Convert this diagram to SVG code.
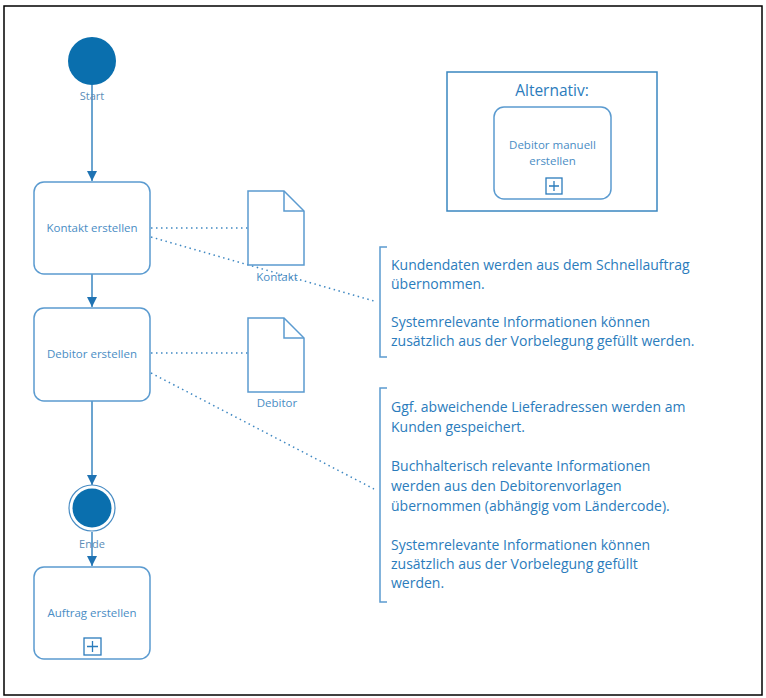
<svg xmlns="http://www.w3.org/2000/svg" width="766" height="698" viewBox="0 0 766 698">
<style>
.box{fill:#fff;stroke:#5b9bd0;stroke-width:1.5}
.lbl{font-family:"Open Sans","Liberation Sans",sans-serif;font-size:11.5px;fill:#4a8dc4;text-anchor:middle}
.ev{font-family:"Open Sans","Liberation Sans",sans-serif;font-size:11px;fill:#5b8db8;text-anchor:middle}
.note{font-family:"Open Sans","Liberation Sans",sans-serif;font-size:14px;fill:#2b7cbc}
.flow{stroke:#3a86c0;stroke-width:1.5;fill:none}
.dot{stroke:#3f88c2;stroke-width:1.5;fill:none;stroke-dasharray:1.5 3.5}
.brk{stroke:#5b9bd0;stroke-width:1.5;fill:none}
</style>
<defs>
<marker id="arr" viewBox="0 0 10 10" refX="10" refY="5" markerWidth="10" markerHeight="10" markerUnits="userSpaceOnUse" orient="auto">
<path d="M0,0 L10,5 L0,10 Z" fill="#1f73b3"/>
</marker>
</defs>
<rect x="4" y="6" width="758" height="689" fill="#fff" stroke="#000" stroke-width="1.5"/>

<g id="connectors">
<line class="flow" x1="92" y1="85" x2="92" y2="181" marker-end="url(#arr)"/>
<line class="flow" x1="92" y1="274" x2="92" y2="307" marker-end="url(#arr)"/>
<line class="flow" x1="92" y1="401" x2="92" y2="485" marker-end="url(#arr)"/>
<line class="flow" x1="92" y1="532" x2="92" y2="566" marker-end="url(#arr)"/>
<line class="dot" x1="151" y1="228" x2="248" y2="228"/>
<line class="dot" x1="151" y1="237" x2="374" y2="301"/>
<line class="dot" x1="151" y1="353" x2="248" y2="353"/>
<line class="dot" x1="151" y1="373" x2="374" y2="489"/>
</g>

<g id="start">
<circle cx="92" cy="61" r="24" fill="#0a6fae"/>
<text class="ev" x="92" y="100">Start</text>
</g>

<g id="kontakt-erstellen">
<rect class="box" x="34" y="182" width="116" height="92" rx="10"/>
<text class="lbl" x="92" y="232">Kontakt erstellen</text>
</g>

<g id="debitor-erstellen">
<rect class="box" x="34" y="308" width="116" height="93" rx="10"/>
<text class="lbl" x="92" y="358">Debitor erstellen</text>
</g>

<g id="ende">
<circle cx="92" cy="508" r="23" fill="#fff" stroke="#4a8dc4" stroke-width="1.2"/>
<circle cx="92" cy="508" r="19.5" fill="#0a6fae"/>
<text class="ev" x="92" y="548">Ende</text>
</g>

<g id="auftrag-erstellen">
<rect class="box" x="34" y="567" width="116" height="92" rx="10"/>
<text class="lbl" x="92" y="617">Auftrag erstellen</text>
<rect x="84" y="638" width="17" height="17" fill="#fff" stroke="#2b7cbc" stroke-width="1.3"/>
<path d="M87,646.5 H98 M92.5,641 V652" stroke="#2b7cbc" stroke-width="1.3"/>
</g>

<g id="doc-kontakt">
<path d="M248,191 H284 L304,211 V265 H248 Z" fill="#fff" stroke="#5b9bd0" stroke-width="1.5"/>
<path d="M284,191 V211 H304" fill="none" stroke="#5b9bd0" stroke-width="1.5"/>
<text class="lbl" x="277" y="281">Kontakt</text>
</g>

<g id="doc-debitor">
<path d="M248,318 H284 L304,338 V392 H248 Z" fill="#fff" stroke="#5b9bd0" stroke-width="1.5"/>
<path d="M284,318 V338 H304" fill="none" stroke="#5b9bd0" stroke-width="1.5"/>
<text class="lbl" x="277" y="407">Debitor</text>
</g>

<g id="alternativ">
<rect x="447" y="72" width="210" height="139" fill="#fff" stroke="#3a86c0" stroke-width="1.5"/>
<text x="552" y="96" font-family="'Open Sans','Liberation Sans',sans-serif" font-size="15.5" fill="#2b7cbc" text-anchor="middle">Alternativ:</text>
<rect class="box" x="494" y="107" width="117" height="92" rx="10"/>
<text class="lbl" x="552.5" y="149">Debitor manuell</text>
<text class="lbl" x="552.5" y="165">erstellen</text>
<rect x="546" y="178" width="16" height="16" fill="#fff" stroke="#2b7cbc" stroke-width="1.3"/>
<path d="M549,186 H559 M554,181 V191" stroke="#2b7cbc" stroke-width="1.3"/>
</g>

<g id="note-kontakt">
<path class="brk" d="M387,247 H380 V357 H387"/>
<text class="note" x="391" y="270">Kundendaten werden aus dem Schnellauftrag</text>
<text class="note" x="391" y="289">übernommen.</text>
<text class="note" x="391" y="327">Systemrelevante Informationen können</text>
<text class="note" x="391" y="346">zusätzlich aus der Vorbelegung gefüllt werden.</text>
</g>

<g id="note-debitor">
<path class="brk" d="M387,388 H380 V602 H387"/>
<text class="note" x="391" y="412">Ggf. abweichende Lieferadressen werden am</text>
<text class="note" x="391" y="432">Kunden gespeichert.</text>
<text class="note" x="391" y="471">Buchhalterisch relevante Informationen</text>
<text class="note" x="391" y="491">werden aus den Debitorenvorlagen</text>
<text class="note" x="391" y="511">übernommen (abhängig vom Ländercode).</text>
<text class="note" x="391" y="550">Systemrelevante Informationen können</text>
<text class="note" x="391" y="569">zusätzlich aus der Vorbelegung gefüllt</text>
<text class="note" x="391" y="588">werden.</text>
</g>
</svg>
